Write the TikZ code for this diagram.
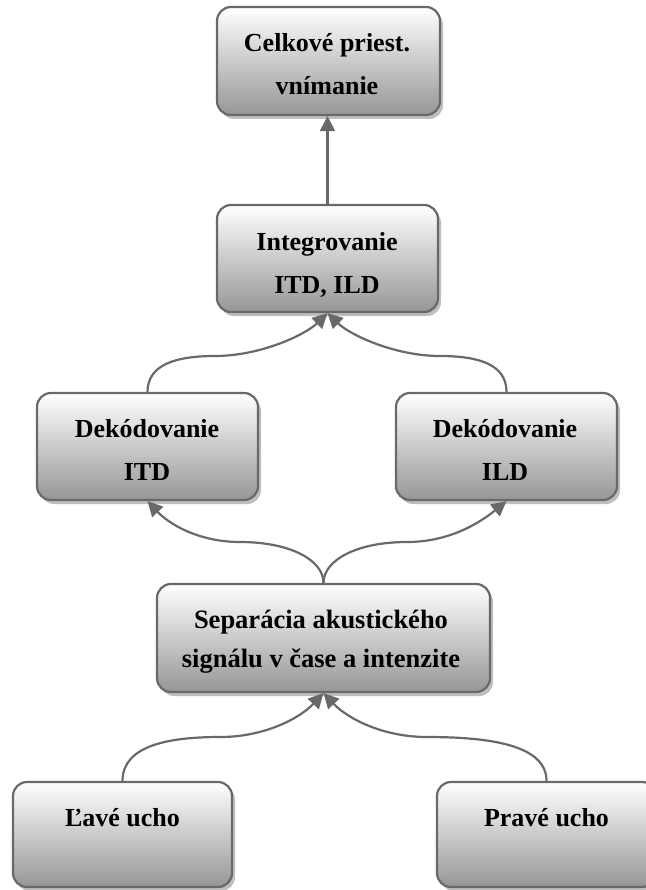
\documentclass[tikz,border=0pt]{standalone}
\usepackage{fontspec}
\setmainfont{Liberation Serif}
\usetikzlibrary{shadows,arrows.meta}
\definecolor{linegray}{RGB}{105,105,105}
\definecolor{fillbot}{RGB}{150,150,150}
\definecolor{shadowgray}{RGB}{190,190,190}
\tikzset{
  box/.style={rectangle, rounded corners=14pt, draw=linegray, line width=2.2pt,
    top color=white, bottom color=fillbot,
    drop shadow={shadow xshift=3pt, shadow yshift=-4pt, fill=shadowgray, opacity=1},
    inner sep=0pt},
  txt/.style={font=\bfseries\fontsize{26}{43}\selectfont, align=center, inner sep=0pt},
  conn/.style={draw=linegray, line width=2.2pt, -{Triangle[length=15pt,width=15pt]}},
}
\begin{document}
\begin{tikzpicture}[x=1pt,y=-1pt]
\useasboundingbox (0,0) rectangle (645,890);
% boxes
\node[box, minimum width=223pt, minimum height=108pt] (top) at (328.5,61) {};
\node[box, minimum width=221pt, minimum height=107pt] (integ) at (327.5,258.5) {};
\node[box, minimum width=221pt, minimum height=107pt] (dekITD) at (147.5,446.5) {};
\node[box, minimum width=221pt, minimum height=107pt] (dekILD) at (506.5,446.5) {};
\node[box, minimum width=333pt, minimum height=108pt] (sep) at (323.5,638) {};
\node[box, minimum width=219pt, minimum height=105pt] (lave) at (122.5,834.5) {};
\node[box, minimum width=219pt, minimum height=105pt] (prave) at (546.5,834.5) {};
% texts
\node[txt] (toptxt) at (327,64) {Celkové priest.\\vnímanie};
\node[txt] (integtxt) at (327,265) {Integrovanie\\ITD, ILD};
\node[txt] (dekITDtxt) at (147,450) {Dekódovanie\\ITD};
\node[txt] (dekILDtxt) at (505,450) {Dekódovanie\\ILD};
\node[txt, font=\bfseries\fontsize{26.5}{39}\selectfont] (septxt) at (321,642) {Separácia akustického\\signálu v čase a intenzite};
\node[txt] (lavetxt) at (122.5,818) {Ľavé ucho};
\node[txt] (pravetxt) at (546.5,818) {Pravé ucho};
% connectors
\draw[conn] (integ.north) -- (integ.north |- top.south);
\draw[conn] (dekITD.north) .. controls (147.5,365) and (175,356) .. (215,356)
  .. controls (260,356) and (305,335) .. (integ.south);
\draw[conn] (dekILD.north) .. controls (506.5,365) and (480,356) .. (440,356)
  .. controls (395,356) and (350,335) .. (integ.south);
\draw[conn] (sep.north) .. controls (323.5,560) and (290,542) .. (240,542)
  .. controls (200,542) and (170,525) .. (dekITD.south);
\draw[conn] (sep.north) .. controls (323.5,560) and (357,542) .. (407,542)
  .. controls (447,542) and (477,525) .. (dekILD.south);
\draw[conn] (lave.north) .. controls (122.5,745) and (170,737) .. (220,737)
  .. controls (265,737) and (300,718) .. (sep.south);
\draw[conn] (prave.north) .. controls (546.5,745) and (490,737) .. (427,737)
  .. controls (382,737) and (347,718) .. (sep.south);
\end{tikzpicture}
\end{document}
